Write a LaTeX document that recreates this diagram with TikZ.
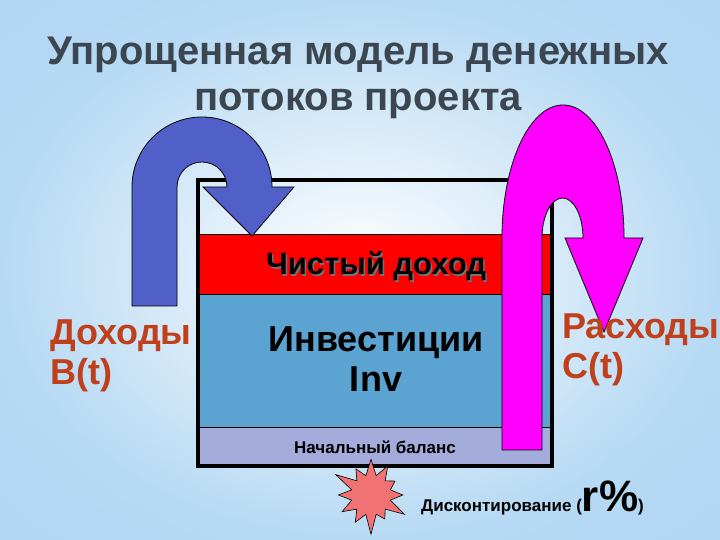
\documentclass[tikz,border=0pt]{standalone}
\usepackage{fontspec}
\setmainfont{Liberation Sans}
\usetikzlibrary{shapes.misc,shapes.geometric,shapes.symbols,shadings}
\definecolor{arrblue}{HTML}{5060C8}
\definecolor{arrmag}{HTML}{FF00FF}
\definecolor{band}{HTML}{5BA3D0}
\definecolor{lav}{HTML}{A4ACDC}
\definecolor{lbl}{HTML}{C0401C}
\definecolor{ttl}{HTML}{3C4650}
\definecolor{burst}{HTML}{F07272}
\definecolor{bgb}{HTML}{9CCCF0}
\tikzset{
  lab/.style={font=\bfseries\fontsize{36}{40}\selectfont, text=lbl, align=left, inner sep=0pt},
  bandtxt/.style={font=\bfseries, text=black, inner sep=0pt, align=center},
  arr/.style={draw=black, line width=0.8pt}
}
\begin{document}
\begin{tikzpicture}[x=1pt,y=1pt]
\useasboundingbox (0,0) rectangle (720,540);
\shade[inner color=white, outer color=bgb] (-200,-150) rectangle (920,690);
\fill[white, opacity=0.5] (0,0) rectangle (720,540);
\shade[inner color=white, outer color=bgb, opacity=0.6] (0,0) rectangle (720,540);
% title
\node[font=\bfseries\fontsize{40}{46}\selectfont, text=ttl, align=center] (title) at (358,462) {Упрощенная модель денежных\\потоков проекта};
% box bands
\fill[red] (198,306) rectangle (552,246);
\fill[band] (198,246) rectangle (552,113);
\fill[lav] (198,113) rectangle (552,74);
\draw[line width=0.6pt] (198,306) -- (552,306) (198,246) -- (552,246) (198,113) -- (552,113);
\draw[line width=4pt] (198,360) -- (198,74) -- (552,74) -- (552,360) -- cycle;
\node (box) at (375,217) {};
% texts
\node[bandtxt, font=\bfseries\fontsize{31}{35}\selectfont, text=black!55] at (377.5,272) {Чистый доход};
\node[bandtxt, font=\bfseries\fontsize{31}{35}\selectfont] (net) at (376,274) {Чистый доход};
\node[bandtxt, font=\bfseries\fontsize{36}{40}\selectfont] (inv) at (376,181) {Инвестиции\\Inv};
\node[bandtxt, font=\bfseries\fontsize{17}{20}\selectfont] (bal) at (375,93) {Начальный баланс};
% arrows
\draw[arr, fill=arrblue] (132,234) -- (132,353) arc[start angle=180,end angle=0,radius=70] -- (294,353) -- (252,304) -- (203,353) -- (227,353) arc[start angle=0,end angle=180,radius=25] -- (177,234) -- cycle;
\draw[arr, fill=arrmag] (502,90) -- (502,302) arc[start angle=180,end angle=0,x radius=61,y radius=133] -- (643,302) -- (604,208) -- (565,302) -- (583,302) arc[start angle=0,end angle=180,x radius=20.5,y radius=40] -- (542,90) -- cycle;
% labels
\node[lab, anchor=north west] (inc) at (50,220) {Доходы\\B(t)};
\node[lab, anchor=north west] (exp) at (562,226) {Расходы\\C(t)};
% burst
\node[starburst, starburst points=12, starburst point height=22pt, minimum width=84pt, minimum height=84pt, draw=black, fill=burst, line width=0.6pt, inner sep=0pt] (star) at (371,45) {};
\node[anchor=base west, inner sep=0pt] (disc) at (421,28) {\bfseries\fontsize{17}{18}\selectfont Дисконтирование (\fontsize{44}{44}\selectfont r\%\fontsize{17}{18}\selectfont)};
\end{tikzpicture}
\end{document}
